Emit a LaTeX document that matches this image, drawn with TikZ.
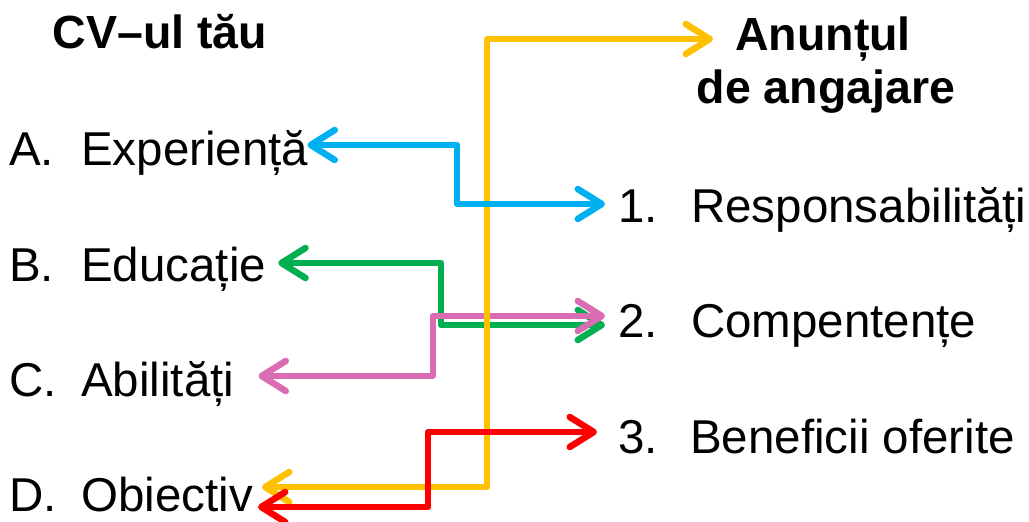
\documentclass[tikz,border=0pt]{standalone}
\usepackage{fontspec}
\setmainfont{Liberation Sans}
\usetikzlibrary{arrows.meta}
\definecolor{cblue}{RGB}{0,176,240}
\definecolor{cgreen}{RGB}{0,176,80}
\definecolor{cpink}{RGB}{218,108,180}
\definecolor{cyellow}{RGB}{255,192,0}
\definecolor{cred}{RGB}{255,0,0}

\begin{document}
\begin{tikzpicture}
[
x=1pt, y=-1pt,
>={Straight Barb[length=24pt, width=30pt, round]},
item/.style={anchor=base west, inner sep=0pt, text height=36pt, text depth=0pt, font=\fontsize{47.5}{53}\selectfont},
head/.style={anchor=base, inner sep=0pt, text height=36pt, text depth=0pt, font=\fontsize{46.5}{53}\selectfont\bfseries},
link/.style={line width=6.5pt, line join=round, <->},
]
\useasboundingbox (0,0) rectangle (1029,522);
% titles
\node (cv)     [head] at (160,48)   {CV--ul tău};
\node (anunt)  [head] at (823,50)   {Anunțul};
\node (angaj)  [head] at (826,103)  {de angajare};
% left column
\node (lA)  [item] at (9,165)    {A.};
\node (tA)  [item] at (81,165)   {Experiență};
\node (lB)  [item] at (9,281)    {B.};
\node (tB)  [item] at (81,281)   {Educație};
\node (lC)  [item] at (9,396)    {C.};
\node (tC)  [item] at (81,396)   {Abilități};
\node (lD)  [item] at (9,511)    {D.};
\node (tD)  [item] at (81,511)   {Obiectiv};
% right column
\node (n1)  [item] at (618,222)  {1.};
\node (r1)  [item] at (691,222)  {Responsabilități};
\node (n2)  [item] at (618,337)  {2.};
\node (r2)  [item] at (691,337)  {Compentențe};
\node (n3)  [item] at (618,453)  {3.};
\node (r3)  [item] at (690,453)  {Beneficii oferite};
% connectors
\draw [link, cgreen]  ([xshift=12pt]tB.east) -- (tB.east -| 441,0) |- ([xshift=-13pt, yshift=-6pt]n2.west);
\draw [link, cpink]   ([xshift=24pt, yshift=2pt]tC.east) -- ([yshift=2pt]tC.east -| 433,0) |- ([xshift=-13pt, yshift=3pt]n2.west);
\draw [link, cyellow] ([xshift=9pt, yshift=6pt]tD.east) -- ([yshift=6pt]tD.east -| 487,0) |- ([xshift=-22pt, yshift=-7pt]anunt.west);
\draw [link, cblue]   ([xshift=-1pt, yshift=2pt]tA.east) -- ([yshift=2pt]tA.east -| 457,0) |- ([xshift=-13pt]n1.west);
\draw [link, cred]    ([xshift=5pt, yshift=-14pt]tD.east) -- ([yshift=-14pt]tD.east -| 428,0) |- ([xshift=-21pt, yshift=3pt]n3.west);
\end{tikzpicture}
\end{document}
